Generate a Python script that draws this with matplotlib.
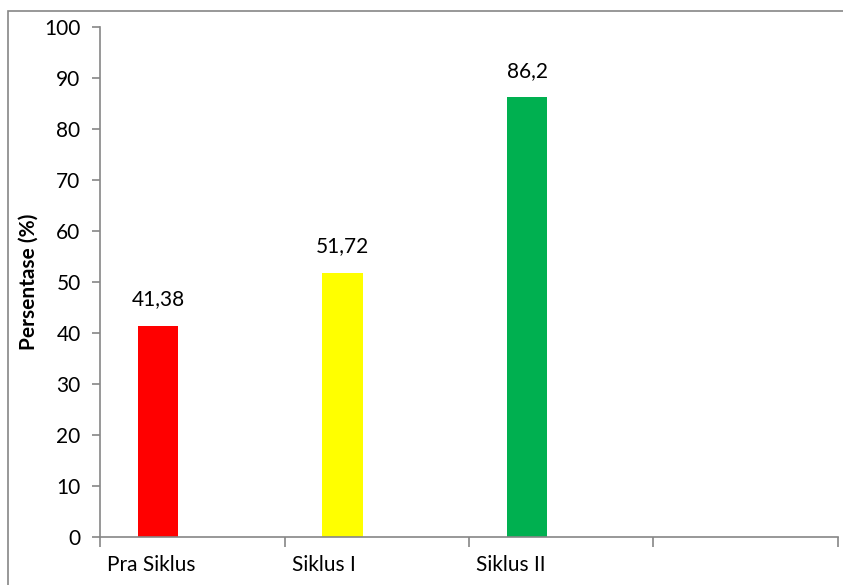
import matplotlib.pyplot as plt
from matplotlib.patches import Rectangle

categories = ['Pra Siklus', 'Siklus I', 'Siklus II']
values = [41.38, 51.72, 86.2]
value_labels = ['41,38', '51,72', '86,2']
colors = ['#ff0000', '#ffff00', '#00b050']

plt.rcParams['font.family'] = ['Lato', 'DejaVu Sans']

fig = plt.figure(figsize=(8.43, 5.85), dpi=100)
ax = fig.add_axes([100/843, 48/585, 738/843, 510/585])

# outer chart-area frame
fig.patches.append(Rectangle((8/843, -0.1), 1.2, 1 - 11/585 + 0.1,
                             transform=fig.transFigure, fill=False,
                             edgecolor='#868686', linewidth=1.2))

xs = [i + 0.315 for i in range(len(categories))]
ax.bar(xs, values, width=0.22, color=colors)
for x, v, lab in zip(xs, values, value_labels):
    ax.annotate(lab, (x, v), xytext=(0, 12), textcoords='offset points',
                ha='center', va='bottom', fontsize=15)

ax.set_xlim(0, 4)
ax.set_ylim(0, 100)
ax.set_yticks(range(0, 101, 10))
ax.set_xticks(range(0, 5))
ax.set_xticklabels([])
for i, c in enumerate(categories):
    ax.text(i + 0.04, -0.035, c, transform=ax.get_xaxis_transform(),
            ha='left', va='top', fontsize=15)

for s in ['top', 'right']:
    ax.spines[s].set_visible(False)
for s in ['left', 'bottom']:
    ax.spines[s].set_color('#868686')
    ax.spines[s].set_linewidth(1.2)
ax.tick_params(axis='y', colors='#868686', labelcolor='black', labelsize=15,
               length=6, width=1.2, pad=8)
ax.tick_params(axis='x', colors='#868686', length=7, width=1.2)

ax.set_ylabel('Persentase (%)', fontsize=15, fontweight='bold', labelpad=4)

fig.savefig('out.png', dpi=100)
